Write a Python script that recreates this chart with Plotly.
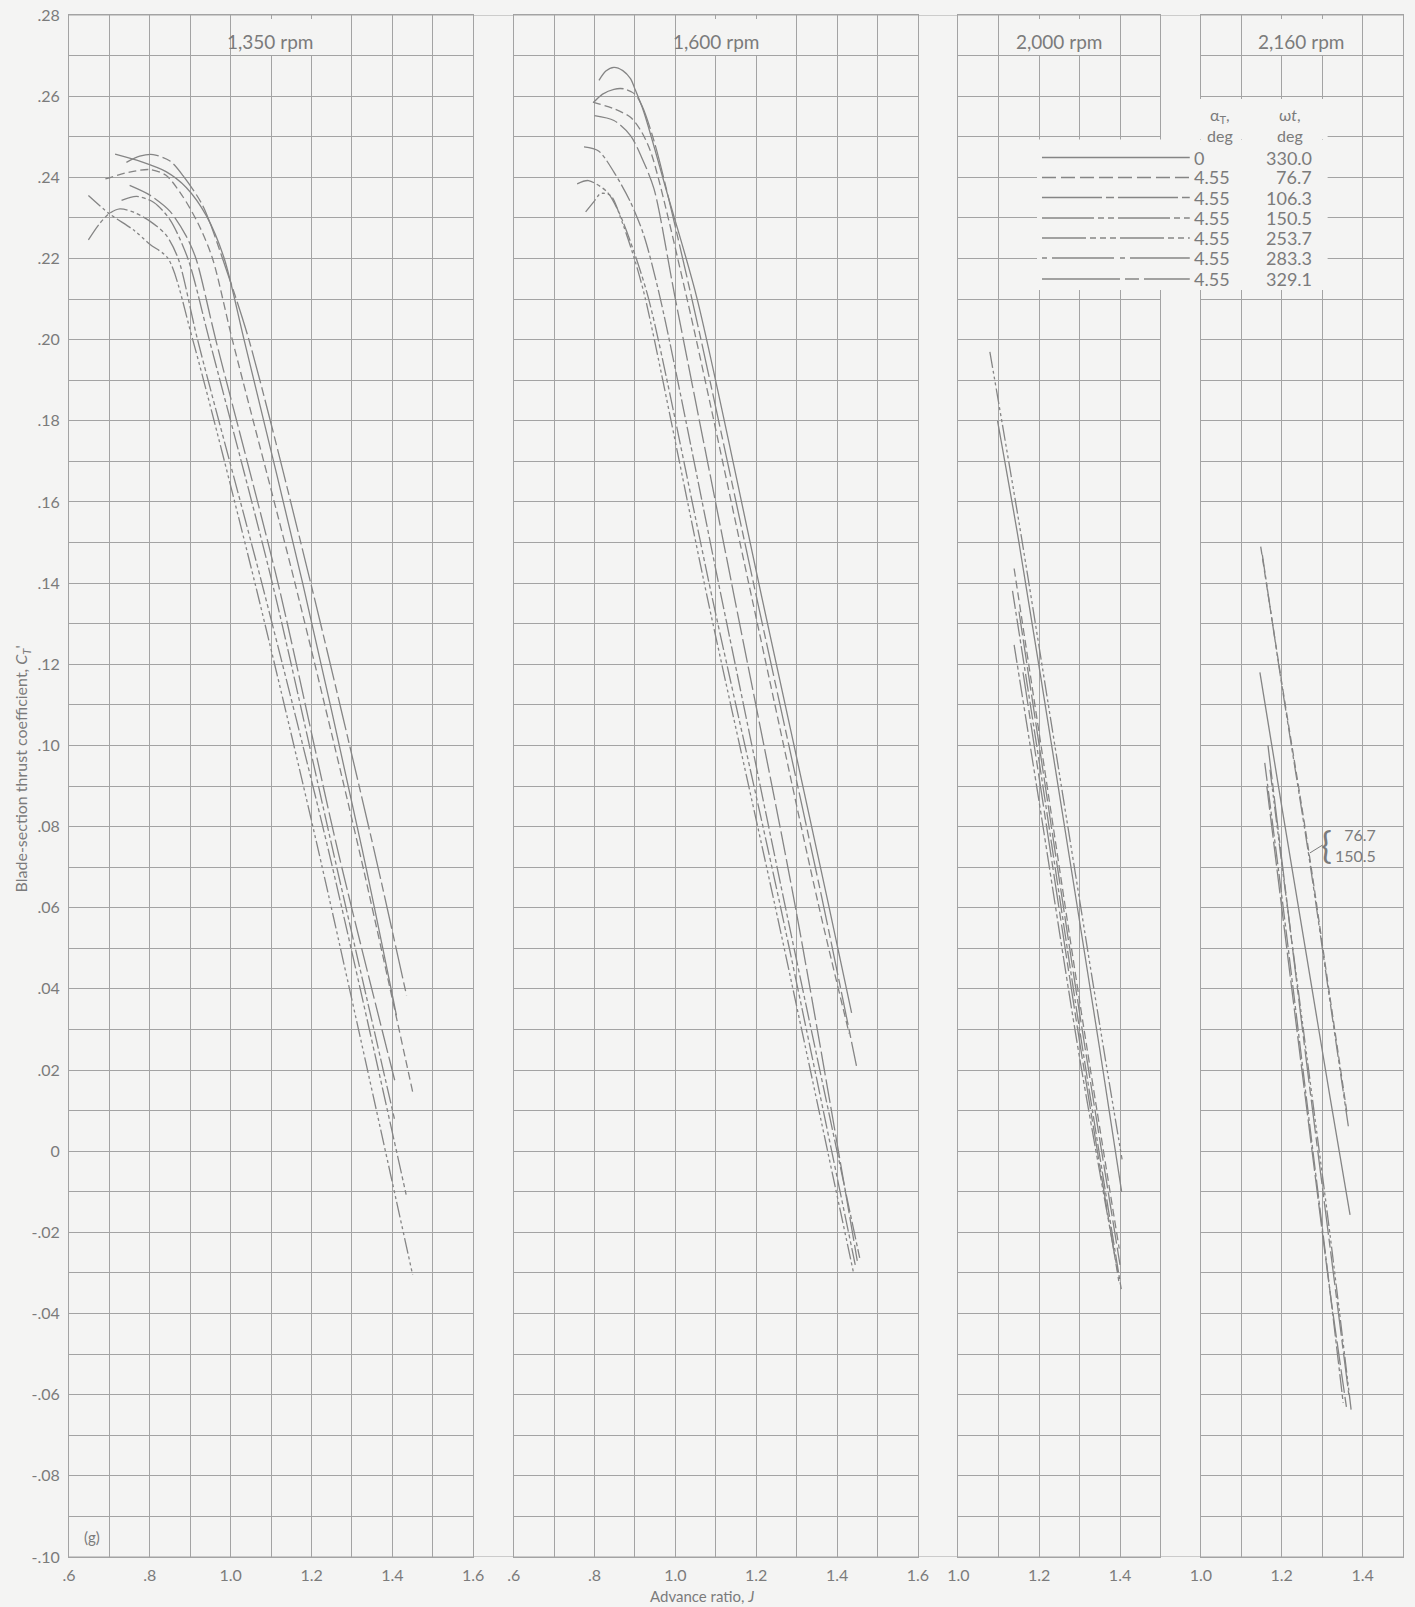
import plotly.graph_objects as go

# Blade-section thrust coefficient C_T' against advance ratio J,
# one curve per flutter phase angle (omega t, deg).

# ---------------- 1,350 rpm ----------------
J_1350_330_0 = [0.714, 0.780, 0.840, 0.890, 0.940, 0.984, 1.033, 1.178, 1.325, 1.410]
CT_1350_330_0 = [0.2457, 0.2438, 0.2414, 0.2375, 0.2305, 0.2200, 0.2000, 0.1400, 0.0745, 0.0335]
J_1350_76_7 = [0.690, 0.750, 0.800, 0.840, 0.880, 0.920, 0.955, 1.004, 1.159, 1.317, 1.450]
CT_1350_76_7 = [0.2396, 0.2413, 0.2419, 0.2405, 0.2355, 0.2285, 0.2200, 0.2000, 0.1400, 0.0745, 0.0147]
J_1350_106_3 = [0.730, 0.767, 0.810, 0.850, 0.894, 0.947, 1.103, 1.252, 1.405]
CT_1350_106_3 = [0.2343, 0.2353, 0.2338, 0.2295, 0.2200, 0.2000, 0.1400, 0.0745, 0.0080]
J_1350_150_5 = [0.648, 0.675, 0.700, 0.726, 0.760, 0.800, 0.840, 0.870, 0.918, 1.077, 1.241, 1.434]
CT_1350_150_5 = [0.2246, 0.2285, 0.2311, 0.2322, 0.2314, 0.2292, 0.2258, 0.2200, 0.2000, 0.1400, 0.0745, -0.0107]
J_1350_253_7 = [0.648, 0.700, 0.760, 0.800, 0.845, 0.906, 1.060, 1.216, 1.450]
CT_1350_253_7 = [0.2355, 0.2310, 0.2270, 0.2235, 0.2200, 0.2000, 0.1400, 0.0745, -0.0304]
J_1350_283_3 = [0.750, 0.800, 0.850, 0.890, 0.914, 0.963, 1.117, 1.264, 1.407]
CT_1350_283_3 = [0.2380, 0.2356, 0.2316, 0.2255, 0.2200, 0.2000, 0.1400, 0.0745, 0.0170]
J_1350_329_1 = [0.742, 0.775, 0.808, 0.850, 0.882, 0.931, 0.988, 1.045, 1.198, 1.354, 1.435]
CT_1350_329_1 = [0.2437, 0.2452, 0.2456, 0.2440, 0.2404, 0.2330, 0.2176, 0.2000, 0.1400, 0.0745, 0.0384]

# ---------------- 1,600 rpm ----------------
J_1600_330_0 = [0.811, 0.828, 0.848, 0.870, 0.889, 0.901, 0.922, 0.980, 1.054, 1.215, 1.378, 1.436]
CT_1600_330_0 = [0.2639, 0.2662, 0.2671, 0.2663, 0.2643, 0.2615, 0.2561, 0.2360, 0.2100, 0.1360, 0.0612, 0.0341]
J_1600_76_7 = [0.796, 0.848, 0.889, 0.914, 0.940, 1.029, 1.190, 1.353, 1.430]
CT_1600_76_7 = [0.2585, 0.2569, 0.2548, 0.2516, 0.2460, 0.2100, 0.1360, 0.0612, 0.0290]
J_1600_106_3 = [0.774, 0.810, 0.848, 0.889, 0.922, 0.963, 1.115, 1.270, 1.456]
CT_1600_106_3 = [0.2475, 0.2465, 0.2413, 0.2339, 0.2257, 0.2100, 0.1360, 0.0612, -0.0263]
J_1600_150_5 = [0.757, 0.785, 0.831, 0.862, 0.889, 0.934, 1.092, 1.258, 1.445]
CT_1600_150_5 = [0.2384, 0.2392, 0.2364, 0.2310, 0.2241, 0.2100, 0.1360, 0.0612, -0.0280]
J_1600_253_7 = [0.778, 0.800, 0.815, 0.840, 0.870, 0.900, 0.926, 1.080, 1.245, 1.440]
CT_1600_253_7 = [0.2315, 0.2342, 0.2360, 0.2355, 0.2285, 0.2195, 0.2100, 0.1360, 0.0612, -0.0296]
J_1600_283_3 = [0.800, 0.848, 0.889, 0.918, 0.947, 1.000, 1.147, 1.295, 1.450]
CT_1600_283_3 = [0.2552, 0.2540, 0.2503, 0.2446, 0.2372, 0.2100, 0.1360, 0.0612, -0.0270]
J_1600_329_1 = [0.798, 0.820, 0.848, 0.873, 0.900, 0.918, 0.950, 1.041, 1.202, 1.365, 1.448]
CT_1600_329_1 = [0.2585, 0.2605, 0.2617, 0.2618, 0.2605, 0.2575, 0.2480, 0.2100, 0.1360, 0.0612, 0.0210]

# ---------------- 2,000 rpm ----------------
J_2000_330_0 = [1.097, 1.150, 1.250, 1.350, 1.404]
CT_2000_330_0 = [0.1800, 0.1500, 0.0880, 0.0250, -0.0100]
J_2000_76_7 = [1.138, 1.200, 1.300, 1.398]
CT_2000_76_7 = [0.1436, 0.1030, 0.0370, -0.0240]
J_2000_106_3 = [1.134, 1.200, 1.300, 1.403]
CT_2000_106_3 = [0.1381, 0.0960, 0.0300, -0.0340]
J_2000_150_5 = [1.138, 1.200, 1.300, 1.395]
CT_2000_150_5 = [0.1248, 0.0860, 0.0230, -0.0300]
J_2000_253_7 = [1.078, 1.150, 1.250, 1.350, 1.405]
CT_2000_253_7 = [0.1970, 0.1550, 0.0930, 0.0310, -0.0020]
J_2000_283_3 = [1.150, 1.200, 1.300, 1.400]
CT_2000_283_3 = [0.1330, 0.1000, 0.0340, -0.0280]
J_2000_329_1 = [1.160, 1.200, 1.300, 1.397]
CT_2000_329_1 = [0.1180, 0.0920, 0.0270, -0.0320]

# ---------------- 2,160 rpm ----------------
J_2160_330_0 = [1.146, 1.200, 1.260, 1.320, 1.369]
CT_2160_330_0 = [0.1180, 0.0850, 0.0490, 0.0130, -0.0157]
J_2160_76_7 = [1.148, 1.200, 1.266, 1.320, 1.362]
CT_2160_76_7 = [0.1490, 0.1155, 0.0745, 0.0375, 0.0090]
J_2160_106_3 = [1.158, 1.200, 1.260, 1.320, 1.352]
CT_2160_106_3 = [0.0957, 0.0630, 0.0140, -0.0350, -0.0620]
J_2160_150_5 = [1.152, 1.200, 1.266, 1.320, 1.365]
CT_2160_150_5 = [0.1470, 0.1150, 0.0735, 0.0365, 0.0060]
J_2160_253_7 = [1.171, 1.200, 1.260, 1.320, 1.372]
CT_2160_253_7 = [0.0940, 0.0710, 0.0250, -0.0210, -0.0640]
J_2160_283_3 = [1.163, 1.200, 1.260, 1.320, 1.360]
CT_2160_283_3 = [0.0900, 0.0600, 0.0120, -0.0350, -0.0630]
J_2160_329_1 = [1.166, 1.200, 1.260, 1.320, 1.366]
CT_2160_329_1 = [0.1000, 0.0720, 0.0230, -0.0240, -0.0600]

# Legend table: alpha_T (deg) and omega t (deg)
OMEGA_T = ["330.0", "76.7", "106.3", "150.5", "253.7", "283.3", "329.1"]
ALPHA_T = ["0", "4.55", "4.55", "4.55", "4.55", "4.55", "4.55"]

RPM_TITLES = ["1,350 rpm", "1,600 rpm", "2,000 rpm", "2,160 rpm"]

X_TICKS_WIDE = [0.6, 0.8, 1.0, 1.2, 1.4, 1.6]
X_TICKTEXT_WIDE = [".6", ".8", "1.0", "1.2", "1.4", "1.6"]
X_TICKS_NARROW = [1.0, 1.2, 1.4]
X_TICKTEXT_NARROW = ["1.0", "1.2", "1.4"]

Y_TICKS = [0.28, 0.26, 0.24, 0.22, 0.20, 0.18, 0.16, 0.14, 0.12, 0.10, 0.08,
           0.06, 0.04, 0.02, 0.0, -0.02, -0.04, -0.06, -0.08, -0.10]
Y_TICKTEXT = [".28", ".26", ".24", ".22", ".20", ".18", ".16", ".14", ".12", ".10", ".08",
              ".06", ".04", ".02", "0", "-.02", "-.04", "-.06", "-.08", "-.10"]

PANELS = [
    ("x", [("330.0", J_1350_330_0, CT_1350_330_0), ("76.7", J_1350_76_7, CT_1350_76_7),
           ("106.3", J_1350_106_3, CT_1350_106_3), ("150.5", J_1350_150_5, CT_1350_150_5),
           ("253.7", J_1350_253_7, CT_1350_253_7), ("283.3", J_1350_283_3, CT_1350_283_3),
           ("329.1", J_1350_329_1, CT_1350_329_1)]),
    ("x2", [("330.0", J_1600_330_0, CT_1600_330_0), ("76.7", J_1600_76_7, CT_1600_76_7),
            ("106.3", J_1600_106_3, CT_1600_106_3), ("150.5", J_1600_150_5, CT_1600_150_5),
            ("253.7", J_1600_253_7, CT_1600_253_7), ("283.3", J_1600_283_3, CT_1600_283_3),
            ("329.1", J_1600_329_1, CT_1600_329_1)]),
    ("x3", [("330.0", J_2000_330_0, CT_2000_330_0), ("76.7", J_2000_76_7, CT_2000_76_7),
            ("106.3", J_2000_106_3, CT_2000_106_3), ("150.5", J_2000_150_5, CT_2000_150_5),
            ("253.7", J_2000_253_7, CT_2000_253_7), ("283.3", J_2000_283_3, CT_2000_283_3),
            ("329.1", J_2000_329_1, CT_2000_329_1)]),
    ("x4", [("330.0", J_2160_330_0, CT_2160_330_0), ("76.7", J_2160_76_7, CT_2160_76_7),
            ("106.3", J_2160_106_3, CT_2160_106_3), ("150.5", J_2160_150_5, CT_2160_150_5),
            ("253.7", J_2160_253_7, CT_2160_253_7), ("283.3", J_2160_283_3, CT_2160_283_3),
            ("329.1", J_2160_329_1, CT_2160_329_1)]),
]

# ---------------- styling ----------------
BG = "#f4f4f3"
INK = "#858585"
GRID = "#a3a3a3"
TEXT = "#7b7b7b"
FONT = "Lato, 'Open Sans', sans-serif"

CURVE_DASH = {
    "330.0": "solid",
    "76.7": "8px,4px",
    "106.3": "18px,3px,4px,3px",
    "150.5": "18px,3px,4px,3px,4px,3px",
    "253.7": "16px,3px,3px,3px,3px,3px,3px,3px",
    "283.3": "24px,4px",
    "329.1": "34px,4px,9px,4px",
}
LEGEND_DASH = {
    "330.0": "solid",
    "76.7": "14px,5px",
    "106.3": "60px,4px,8px,4px",
    "150.5": "52px,4px,6px,4px,6px,4px",
    "253.7": "44px,4px,6px,4px,6px,4px,6px,4px",
    "283.3": "5px,5px,62px,6px",
    "329.1": "78px,5px,14px,5px",
}

W, H = 1415, 1607
ML, MR, MT, MB = 69, 1, 15, 50
PLOT_W = W - ML - MR
PLOT_H = H - MT - MB


def px_x(xp):
    return (xp - ML) / PLOT_W


def px_y(yp):
    return (H - MB - yp) / PLOT_H


fig = go.Figure()

for axis_id, curves in PANELS:
    for omega, j_vals, ct_vals in curves:
        fig.add_trace(go.Scatter(
            x=j_vals, y=ct_vals, xaxis=axis_id, yaxis="y",
            mode="lines", line=dict(color=INK, width=1.3, dash=CURVE_DASH[omega],
                                    shape="spline", smoothing=0.8),
            showlegend=False, hoverinfo="skip",
        ))

cells = 33.0
domains = [(0, 10 / cells), (11 / cells, 21 / cells), (22 / cells, 27 / cells), (28 / cells, 1)]
ranges = [(0.6, 1.6), (0.6, 1.6), (1.0, 1.5), (1.0, 1.5)]
tickvals = [X_TICKS_WIDE, X_TICKS_WIDE, X_TICKS_NARROW, X_TICKS_NARROW]
ticktext = [X_TICKTEXT_WIDE, X_TICKTEXT_WIDE, X_TICKTEXT_NARROW, X_TICKTEXT_NARROW]

axis_common = dict(
    showgrid=True, gridcolor=GRID, gridwidth=1, zeroline=False,
    showline=True, linecolor=GRID, linewidth=1, mirror=True,
    ticks="", tickfont=dict(family=FONT, size=16, color=TEXT),
    minor=dict(tickmode="linear", tick0=0, dtick=0.1, showgrid=True,
               gridcolor=GRID, gridwidth=1, ticks=""),
)

layout_axes = {}
for i, name in enumerate(["xaxis", "xaxis2", "xaxis3", "xaxis4"]):
    layout_axes[name] = dict(
        axis_common, domain=list(domains[i]), range=list(ranges[i]), autorange=False,
        anchor="y", tickmode="array", tickvals=tickvals[i], ticktext=ticktext[i],
        ticklabelstandoff=4,
    )

layout_axes["yaxis"] = dict(
    showgrid=True, gridcolor=GRID, gridwidth=1, zeroline=False,
    showline=True, linecolor=GRID, linewidth=1, mirror="all",
    ticks="", tickfont=dict(family=FONT, size=16, color=TEXT),
    domain=[0, 1], range=[-0.10, 0.28], autorange=False, anchor="x",
    tickmode="array", tickvals=Y_TICKS, ticktext=Y_TICKTEXT, ticklabelstandoff=5,
    minor=dict(tickmode="linear", tick0=0, dtick=0.01, showgrid=True,
               gridcolor=GRID, gridwidth=1, ticks=""),
)

shapes = []
annotations = []

# blank boxes behind the panel titles
title_centres = [272, 721, 1067, 1311]
title_boxes = [(236, 324), (686, 774), (1014, 1121), (1257, 1366)]
for title, xc, (bx0, bx1) in zip(RPM_TITLES, title_centres, title_boxes):
    shapes.append(dict(type="rect", xref="paper", yref="paper", layer="above",
                       x0=px_x(bx0), x1=px_x(bx1), y0=px_y(55), y1=px_y(19),
                       fillcolor=BG, line=dict(width=0)))
    annotations.append(dict(xref="paper", yref="paper", x=px_x(xc), y=px_y(41),
                            text=title, showarrow=False, xanchor="center", yanchor="middle",
                            font=dict(family=FONT, size=19, color=TEXT)))

# full-width top and bottom borders across panel gaps
for yb in (0.28, -0.10):
    shapes.append(dict(type="line", xref="paper", yref="y", x0=0, x1=1, y0=yb, y1=yb,
                       line=dict(color=GRID, width=1), layer="above"))

# legend table
shapes.append(dict(type="rect", xref="paper", yref="paper", layer="above",
                   x0=px_x(1174), x1=px_x(1338), y0=px_y(139), y1=px_y(99),
                   fillcolor=BG, line=dict(width=0)))
shapes.append(dict(type="rect", xref="paper", yref="paper", layer="above",
                   x0=px_x(1045), x1=px_x(1338), y0=px_y(290), y1=px_y(139.5),
                   fillcolor=BG, line=dict(width=0)))

legend_font = dict(family=FONT, size=18, color=TEXT)
header_font = dict(family=FONT, size=16, color=TEXT)
annotations += [
    dict(xref="paper", yref="paper", x=px_x(1229), y=px_y(125),
         text="α<sub>T</sub>,<br>deg", showarrow=False, xanchor="center",
         yanchor="middle", align="center", font=header_font),
    dict(xref="paper", yref="paper", x=px_x(1300), y=px_y(125),
         text="ω<i>t</i>,<br>deg", showarrow=False, xanchor="center",
         yanchor="middle", align="center", font=header_font),
]
row_y = [157.5, 177.5, 197.5, 218, 238, 258, 279]
for omega, alpha, yr in zip(OMEGA_T, ALPHA_T, row_y):
    shapes.append(dict(type="line", xref="paper", yref="paper", layer="above",
                       x0=px_x(1050), x1=px_x(1199), y0=px_y(yr), y1=px_y(yr),
                       line=dict(color=INK, width=1.3, dash=LEGEND_DASH[omega])))
    annotations.append(dict(xref="paper", yref="paper", x=px_x(1201), y=px_y(yr),
                            text=alpha, showarrow=False, xanchor="left", yanchor="middle",
                            font=legend_font))
    annotations.append(dict(xref="paper", yref="paper", x=px_x(1324), y=px_y(yr),
                            text=omega, showarrow=False, xanchor="right", yanchor="middle",
                            font=legend_font))

# bracket label for the coincident curves at 2,160 rpm
annotations.append(dict(xref="paper", yref="paper", x=px_x(1389), y=px_y(845),
                        text="76.7<br>150.5", showarrow=False, xanchor="right",
                        yanchor="middle", align="right",
                        font=dict(family=FONT, size=16, color=TEXT)))
annotations.append(dict(xref="paper", yref="paper", x=px_x(1337), y=px_y(845),
                        text="{", showarrow=False, xanchor="center", yanchor="middle",
                        font=dict(family=FONT, size=36, color=TEXT)))
shapes.append(dict(type="line", xref="paper", yref="paper", layer="above",
                   x0=px_x(1333), y0=px_y(845), x1=px_x(1320), y1=px_y(853),
                   line=dict(color=TEXT, width=1)))

# panel tag and axis titles
annotations.append(dict(xref="paper", yref="paper", x=px_x(92), y=px_y(1537), text="(g)",
                        showarrow=False, xanchor="center", yanchor="middle",
                        font=dict(family=FONT, size=15, color=TEXT)))
annotations.append(dict(xref="paper", yref="paper", x=px_x(707), y=px_y(1596),
                        text="Advance ratio, <i>J</i>", showarrow=False,
                        xanchor="center", yanchor="middle",
                        font=dict(family=FONT, size=15, color=TEXT)))
annotations.append(dict(xref="paper", yref="paper", x=px_x(21), y=px_y(769),
                        text="Blade-section thrust coefficient, <i>C<sub>T</sub></i>'",
                        showarrow=False, xanchor="center", yanchor="middle", textangle=-90,
                        font=dict(family=FONT, size=16, color=TEXT)))

fig.update_layout(
    width=W, height=H,
    margin=dict(l=ML, r=MR, t=MT, b=MB, pad=0),
    paper_bgcolor=BG, plot_bgcolor=BG,
    showlegend=False,
    shapes=shapes, annotations=annotations,
    **layout_axes,
)

fig.write_html("out.html", config={"displayModeBar": False})
